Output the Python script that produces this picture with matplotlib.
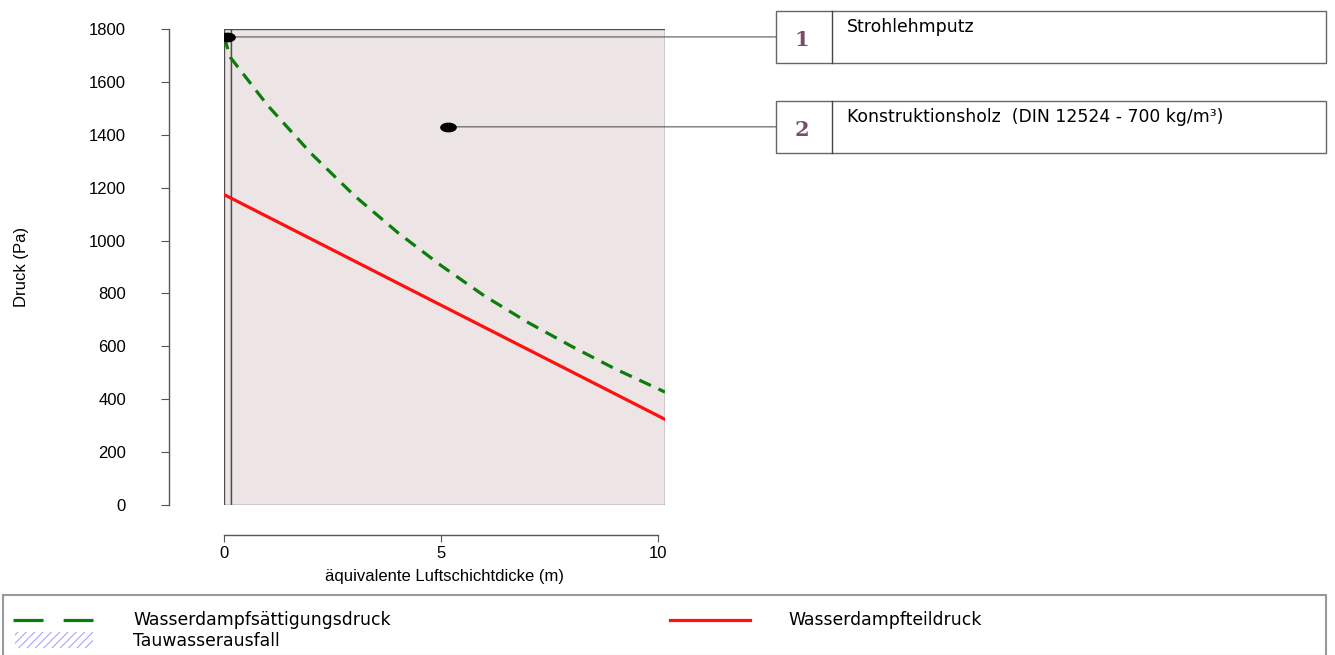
import numpy as np
import matplotlib.pyplot as plt
from matplotlib import transforms
from matplotlib.patches import Rectangle
from matplotlib.markers import MarkerStyle

## Schichten (Name, sd-Wert in m) und Lage der Markierungen
layer_names = ['Strohlehmputz', 'Konstruktionsholz  (DIN 12524 - 700 kg/m³)']
layer_sd = [0.15, 10.0]
marker_p = [1770, 1430]

## Wasserdampfsaettigungsdruck
sat_x = [0, 0.15, 1, 2, 3, 4, 5, 6, 7, 8, 9, 10.15]
sat_p = [1770, 1692, 1512, 1330, 1170, 1030, 905, 790, 690, 600, 515, 427]
## Wasserdampfteildruck
part_x = [0, 10.15]
part_p = [1174, 324]

x_ticks = [0, 5, 10]
y_ticks = list(range(0, 1801, 200))

W, H = 1335, 655
def fx(px):
    return px / W
def fy(py):
    return 1 - py / H

axcol = '#555555'
plt.rcParams['font.family'] = ['Liberation Sans', 'DejaVu Sans']
plt.rcParams['hatch.linewidth'] = 0.7

fig = plt.figure(figsize=(W / 100, H / 100), dpi=100)
ax = fig.add_axes([fx(224), fy(505), fx(665) - fx(224), fy(29) - fy(505)])
ax.set_xlim(0, sum(layer_sd))
ax.set_ylim(0, 1800)
ax.patch.set_visible(False)

## Schichten als Flaechen
edges = np.concatenate([[0], np.cumsum(layer_sd)])
for i in range(len(layer_sd)):
    ax.axvspan(edges[i], edges[i + 1], facecolor='#ede5e5', edgecolor='#4d4d4d', lw=1, zorder=0)

## Kurven
ax.plot(sat_x, sat_p, color='#0a7d0a', lw=2.3, linestyle=(0, (4, 2.6)), zorder=3)
ax.plot(part_x, part_p, color='#ff1010', lw=2.3, zorder=3)

## Achsen im R-Stil (abgesetzt)
for s in ['top', 'right']:
    ax.spines[s].set_visible(False)
ax.spines['left'].set_position(('outward', 55 * 0.72))
ax.spines['bottom'].set_position(('outward', 30 * 0.72))
ax.spines['left'].set_bounds(0, 1800)
ax.spines['bottom'].set_bounds(0, 10)
for s in ['left', 'bottom']:
    ax.spines[s].set_color(axcol)
    ax.spines[s].set_linewidth(1)
ax.set_xticks(x_ticks)
ax.set_yticks(y_ticks)
ax.tick_params(axis='y', length=6, pad=25, color=axcol, labelsize=12)
ax.tick_params(axis='x', length=5, pad=3, color=axcol, labelsize=12)
ax.set_xlabel('äquivalente Luftschichtdicke (m)', fontsize=12, labelpad=6)
ax.set_ylabel('Druck (Pa)', fontsize=12, labelpad=43)

## Markierungen, Hinweislinien und Schichtkaesten
ell = MarkerStyle('o', transform=transforms.Affine2D().scale(1.0, 0.55))
blend = transforms.blended_transform_factory(fig.transFigure, ax.transData)
for i, name in enumerate(layer_names):
    mid = (edges[i] + edges[i + 1]) / 2
    p = marker_p[i]
    ax.plot(mid, p, marker=ell, markersize=11, color='black', zorder=5)
    ax.annotate('', xy=(mid, p), xytext=(fx(776), p), textcoords=blend,
                arrowprops=dict(arrowstyle='-', color=axcol, lw=0.8, shrinkA=0, shrinkB=0))
    cy = ax.transData.transform((0, p))[1]
    fig.add_artist(Rectangle((fx(776), (cy - 26) / H), fx(1326) - fx(776), 52 / H,
                             transform=fig.transFigure, facecolor='white', edgecolor='#666666', lw=1))
    fig.add_artist(plt.Line2D([fx(832), fx(832)], [(cy - 26) / H, (cy + 26) / H],
                              transform=fig.transFigure, color='#444444', lw=1))
    fig.text(fx(802), (cy - 3) / H, str(i + 1), ha='center', va='center', fontsize=15,
             fontweight='bold', color='#7a4b6b', family='DejaVu Serif')
    fig.text(fx(847), (cy + 19) / H, name, ha='left', va='top', fontsize=12.4,
             color='black', family='DejaVu Sans')

## Legende unten
fig.add_artist(Rectangle((fx(3), fy(656)), fx(1326) - fx(3), (656 - 595) / H,
                         transform=fig.transFigure, facecolor='white', edgecolor='#999999', lw=1.5))
fig.add_artist(plt.Line2D([fx(13), fx(93)], [fy(620), fy(620)], transform=fig.transFigure,
                          color='#0a7d0a', lw=2.3, linestyle=(0, (9.4, 6.3))))
fig.add_artist(plt.Line2D([fx(670), fx(750)], [fy(620), fy(620)], transform=fig.transFigure,
                          color='#ff1010', lw=2.3))
fig.add_artist(Rectangle((fx(15), fy(648)), fx(93) - fx(15), 16 / H, transform=fig.transFigure,
                         facecolor='none', edgecolor='#9a9aff', hatch='////', lw=0))
fig.text(fx(133), fy(620), 'Wasserdampfsättigungsdruck', va='center', fontsize=12.4, family='DejaVu Sans')
fig.text(fx(133), fy(641), 'Tauwasserausfall', va='center', fontsize=12.4, family='DejaVu Sans')
fig.text(fx(788), fy(620), 'Wasserdampfteildruck', va='center', fontsize=12.4, family='DejaVu Sans')

fig.savefig('out.png', dpi=100)
